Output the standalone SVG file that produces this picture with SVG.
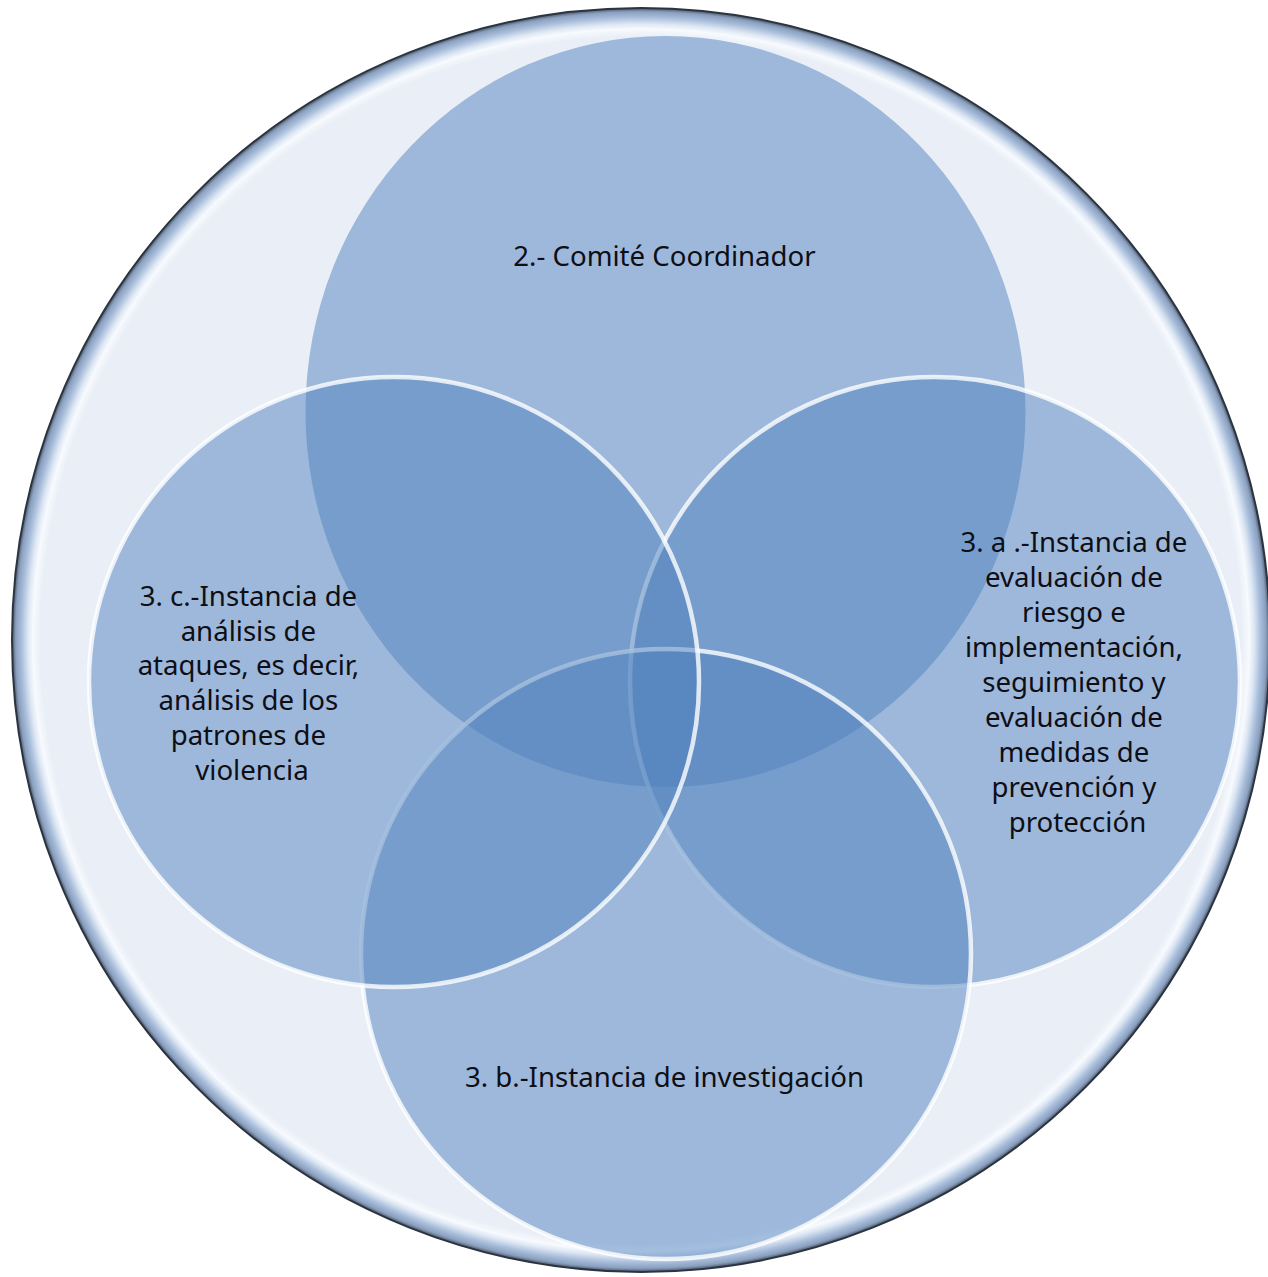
<svg xmlns="http://www.w3.org/2000/svg" width="1268" height="1277" viewBox="0 0 1268 1277">
  <defs>
    <radialGradient id="bevel" cx="0.5" cy="0.5" r="0.5">
      <stop offset="0" stop-color="#eaeff7"/>
      <stop offset="0.955" stop-color="#eaeff7"/>
      <stop offset="0.967" stop-color="#f7fafe"/>
      <stop offset="0.975" stop-color="#dce6f3"/>
      <stop offset="0.985" stop-color="#a9bedb"/>
      <stop offset="0.994" stop-color="#8aa0bf"/>
      <stop offset="1" stop-color="#4a5566"/>
    </radialGradient>
    <style>
      .set { fill: #4F81BD; fill-opacity: 0.5; }
      .edge { stroke: #ffffff; stroke-opacity: 0.8; stroke-width: 4.5; }
      .lbl { font-family: "Noto Sans", "Open Sans", sans-serif; font-size: 27.6px; fill: #0e0e14; text-anchor: middle; }
    </style>
  </defs>

  <g id="outer">
    <ellipse cx="641" cy="640" rx="629" ry="632" fill="url(#bevel)" stroke="#2b3440" stroke-width="2"/>
  </g>

  <g id="node-comite">
    <ellipse class="set" cx="665.5" cy="411.5" rx="360" ry="375.5"/>
    <text class="lbl" x="664.5" y="265.5">2.- Comité Coordinador</text>
  </g>

  <g id="node-3a">
    <circle class="set edge" cx="935" cy="682" r="305"/>
    <text class="lbl" x="1077.5">
      <tspan x="1077.5" y="552">3. a .-Instancia de</tspan>
      <tspan x="1077.5" y="587">evaluación de</tspan>
      <tspan x="1077.5" y="622">riesgo e</tspan>
      <tspan x="1077.5" y="657">implementación,</tspan>
      <tspan x="1077.5" y="692">seguimiento y</tspan>
      <tspan x="1077.5" y="727">evaluación de</tspan>
      <tspan x="1077.5" y="762">medidas de</tspan>
      <tspan x="1077.5" y="797">prevención y</tspan>
      <tspan x="1077.5" y="832">protección</tspan>
    </text>
  </g>

  <g id="node-3b">
    <circle class="set edge" cx="666" cy="954" r="305"/>
    <text class="lbl" x="664.5" y="1087">3. b.-Instancia de investigación</text>
  </g>

  <g id="node-3c">
    <circle class="set edge" cx="394" cy="682" r="305"/>
    <text class="lbl" x="252">
      <tspan x="252" y="606">3. c.-Instancia de</tspan>
      <tspan x="252" y="640.7">análisis de</tspan>
      <tspan x="252" y="675.4">ataques, es decir,</tspan>
      <tspan x="252" y="710.1">análisis de los</tspan>
      <tspan x="252" y="744.8">patrones de</tspan>
      <tspan x="252" y="779.5">violencia</tspan>
    </text>
  </g>

  <g id="connectors"></g>
</svg>
